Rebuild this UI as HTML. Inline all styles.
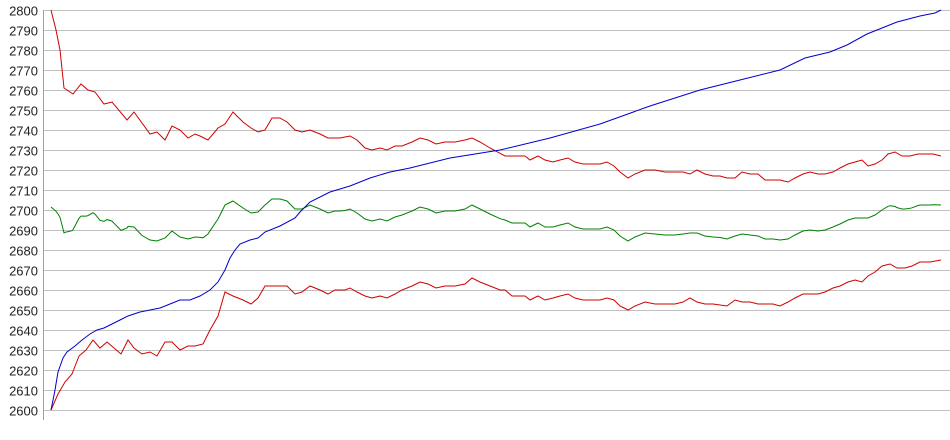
<!DOCTYPE html>
<html><head><meta charset="utf-8"><style>
html,body{margin:0;padding:0;background:#fff;}
svg text{font-family:"Liberation Sans",sans-serif;font-size:13px;fill:#222;}
</style></head><body>
<svg id="s" width="950" height="435" xmlns="http://www.w3.org/2000/svg">
<g id="grid" stroke="#c0c0c0" stroke-width="1" shape-rendering="crispEdges"></g>
<line x1="43.5" y1="10" x2="43.5" y2="420" stroke="#a0a0a0" shape-rendering="crispEdges"/>
<g id="labels"></g>
<g id="series" fill="none" stroke-width="1"></g>
</svg>
<script>
var Y=function(v){return 10+(2800-v)*2;};
var g=document.getElementById('grid'),L=document.getElementById('labels'),S=document.getElementById('series');
var ns="http://www.w3.org/2000/svg";
for(var v=2600;v<=2800;v+=10){
 var y=Y(v)+0.5;
 var l=document.createElementNS(ns,'line');l.setAttribute('x1',43);l.setAttribute('x2',950);l.setAttribute('y1',y);l.setAttribute('y2',y);g.appendChild(l);
 var t=document.createElementNS(ns,'text');t.setAttribute('x',38);t.setAttribute('y',y+5);t.setAttribute('text-anchor','end');t.textContent=v;L.appendChild(t);
}
var up=[51,2800,56,2790,60,2780,64,2761,67,2760,73,2758,81,2763,88,2760,95,2759,104,2753,112,2754,127,2745,134,2749,150,2738,157,2739,165,2735,172,2742,180,2740,188,2736,195,2738,200,2737,208,2735,218,2741,225,2743,233,2749,243,2744,251,2741,258,2739,265,2740,272,2746,280,2746,287,2744,295,2740,302,2739,310,2740,320,2738,328,2736,340,2736,350,2737,357,2735,365,2731,372,2730,380,2731,387,2730,395,2732,402,2732,412,2734,420,2736,428,2735,436,2733,445,2734,455,2734,465,2735,472,2736,480,2734,490,2731,505,2727,515,2727,525,2727,530,2725,538,2727,545,2725,553,2724,560,2725,568,2726,575,2724,583,2723,600,2723,607,2724,614,2722,620,2719,628,2716,635,2718,645,2720,655,2720,665,2719,683,2719,690,2718,697,2720,705,2718,713,2717,720,2717,727,2716,735,2716,742,2719,750,2718,758,2718,765,2715,780,2715,788,2714,795,2716,803,2718,810,2719,818,2718,825,2718,833,2719,840,2721,848,2723,855,2724,862,2725,868,2722,875,2723,882,2725,888,2728,895,2729,902,2727,910,2727,918,2728,933,2728,941,2727];
var lo=[51,2600,58,2608,65,2614,72,2618,79,2627,86,2630,93,2635,100,2631,107,2634,114,2631,121,2628,128,2635,134,2631,142,2628,150,2629,157,2627,165,2634,172,2634,180,2630,188,2632,195,2632,203,2633,210,2640,218,2647,225,2659,233,2657,243,2655,251,2653,258,2656,265,2662,287,2662,295,2658,302,2659,310,2662,320,2660,328,2658,335,2660,345,2660,350,2661,357,2659,365,2657,372,2656,380,2657,387,2656,395,2658,402,2660,412,2662,420,2664,428,2663,436,2661,445,2662,455,2662,465,2663,472,2666,480,2664,490,2662,500,2660,505,2660,512,2657,525,2657,530,2655,538,2657,545,2655,553,2656,560,2657,568,2658,575,2656,583,2655,600,2655,607,2656,614,2655,620,2652,628,2650,635,2652,645,2654,655,2653,675,2653,683,2654,690,2656,697,2654,705,2653,713,2653,727,2652,735,2655,742,2654,750,2654,758,2653,773,2653,780,2652,788,2654,795,2656,803,2658,818,2658,825,2659,833,2661,840,2662,848,2664,855,2665,862,2664,868,2667,875,2669,882,2672,890,2673,897,2671,905,2671,912,2672,920,2674,930,2674,941,2675];
var bl=[51,2600,55,2610,58,2619,63,2626,67,2629,75,2632,82,2635,90,2638,97,2640,104,2641,112,2643,120,2645,128,2647,140,2649,150,2650,160,2651,170,2653,180,2655,190,2655,200,2657,210,2660,218,2664,225,2670,230,2676,235,2680,240,2683,250,2685,258,2686,265,2689,280,2692,295,2696,300,2699,310,2704,330,2709,350,2712,370,2716,390,2719,410,2721,450,2726,500,2730,550,2736,600,2743,650,2752,700,2760,740,2765,780,2770,805,2776,830,2779,847,2782.5,867,2788,887,2792,897,2794,920,2797,935,2798.5,941,2800];
function interp(a,x){for(var i=0;i<a.length-2;i+=2){if(x<=a[i+2]){var t=(x-a[i])/(a[i+2]-a[i]);return a[i+1]+t*(a[i+3]-a[i+1]);}}return a[a.length-1];}
var gr=[];var xs={};for(var i=0;i<up.length;i+=2)xs[up[i]]=1;for(var i=0;i<lo.length;i+=2)xs[lo[i]]=1;
var xl=Object.keys(xs).map(Number).sort(function(a,b){return a-b;});
xl.forEach(function(x){gr.push(x,(interp(up,x)+interp(lo,x))/2+1.5);});
function draw(a,c){var p='';for(var i=0;i<a.length;i+=2)p+=a[i]+','+Y(a[i+1]).toFixed(1)+' ';var e=document.createElementNS(ns,'polyline');e.setAttribute('points',p);e.setAttribute('stroke',c);S.appendChild(e);}
draw(gr,'#008000');draw(up,'#d00000');draw(lo,'#d00000');draw(bl,'#0000d0');
</script>
</body></html>
